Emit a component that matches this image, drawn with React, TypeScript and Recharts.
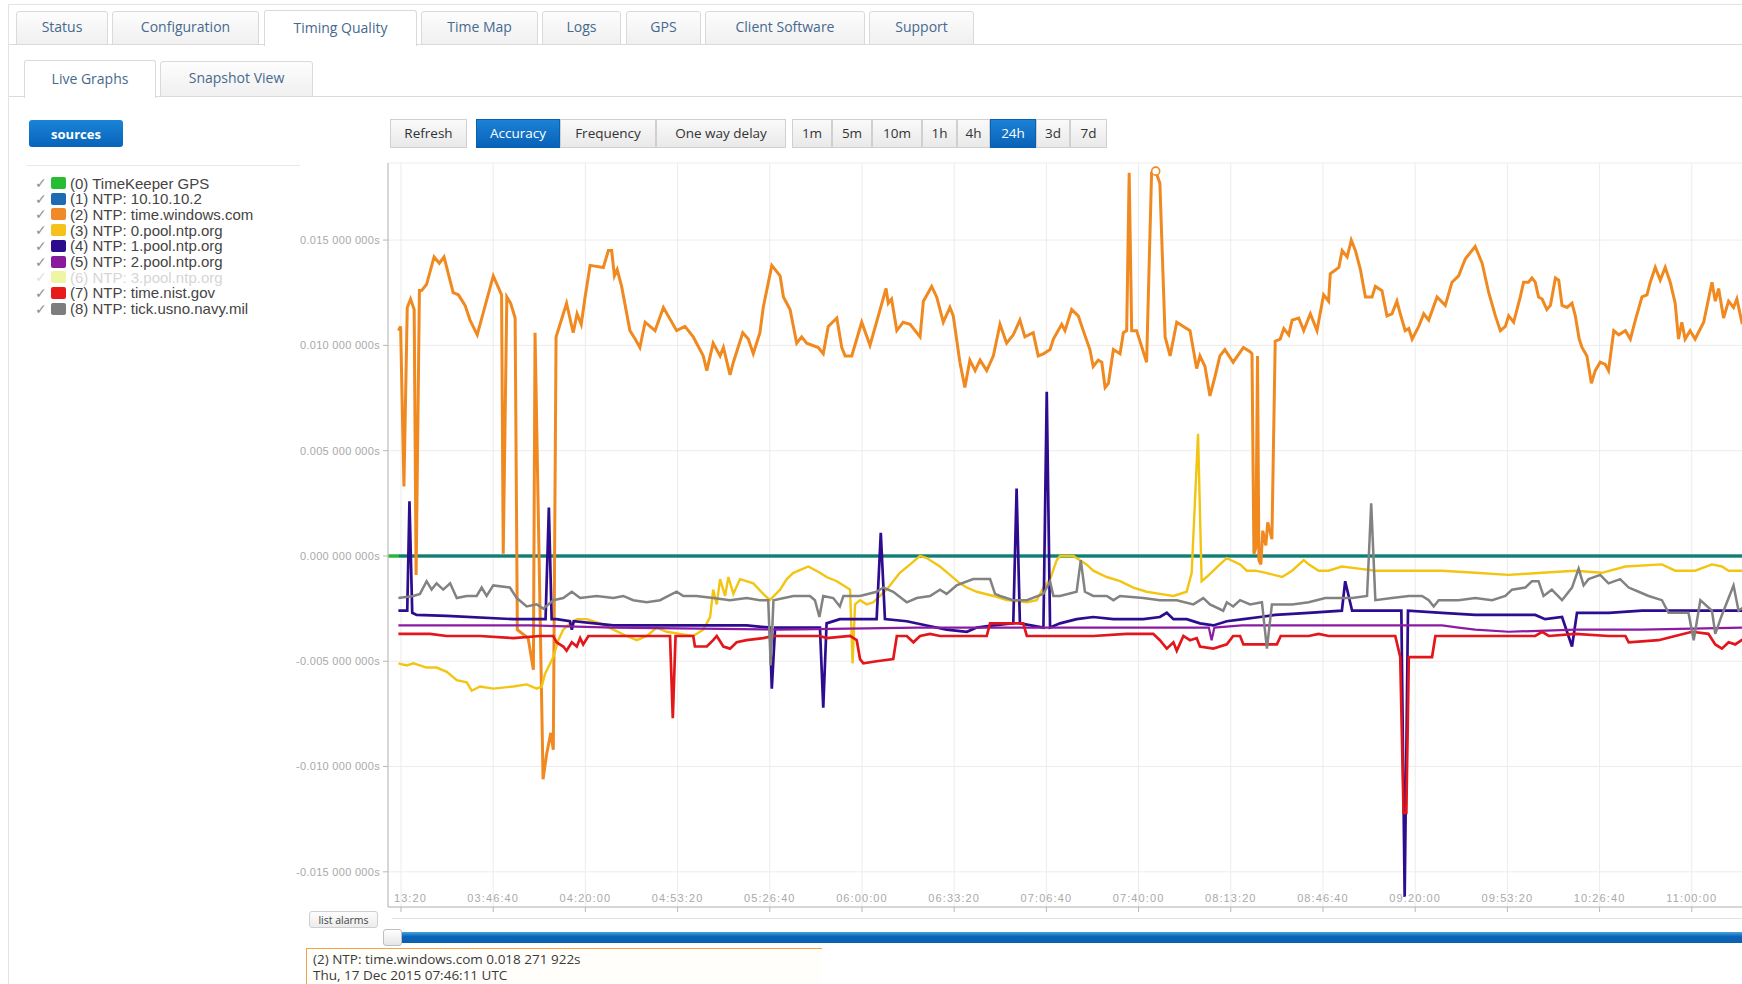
import React from "react"
import { LineChart, Line, XAxis, YAxis, CartesianGrid, ReferenceDot } from "recharts"

// x = minutes after 03:00:00 UTC (Thu 17 Dec 2015), y = clock offset in milliseconds
type Pt = [number, number]

const TIME_TICKS = [
  "03:13:20", "03:46:40", "04:20:00", "04:53:20", "05:26:40", "06:00:00", "06:33:20", "07:06:40",
  "07:40:00", "08:13:20", "08:46:40", "09:20:00", "09:53:20", "10:26:40", "11:00:00",
]
const OFFSET_TICKS = [15, 10, 5, 0, -5, -10, -15]

const gpsOffsets: Pt[] = [[8.7, 0], [501, 0]]
const localNtpOffsets: Pt[] = [[12.6, 0], [501, 0]]

const windowsOffsets: Pt[] = [
  [12.4, 10.7], [13.2, 10.9], [14.4, 3.3], [15.6, 11.8], [16.8, 12.2], [18.1, 11.7], [18.8, -0.9], [20.0, 12.6],
  [20.8, 12.6], [22.6, 12.9], [25.3, 14.2], [27.2, 13.9], [28.9, 14.2], [32.2, 12.5], [34.1, 12.4], [36.5, 11.9],
  [38.3, 11.2], [40.9, 10.5], [46.7, 13.3], [49.7, 12.4], [50.3, 0.1], [51.6, 12.3], [53.0, 12.0], [54.6, 11.3],
  [55.4, -3.5], [59.3, -3.9], [61.2, -5.4], [61.8, 10.6], [64.7, -10.6], [66.0, -9.4], [67.5, -8.4], [68.4, -9.2],
  [69.4, 10.4], [73.2, 12.0], [75.6, 10.6], [77.0, 11.5], [78.5, 11.0], [79.9, 12.3], [81.7, 13.8], [86.5, 13.7],
  [88.3, 14.5], [89.5, 14.5], [90.5, 13.3], [91.5, 13.6], [93.1, 12.8], [96.1, 10.7], [98.0, 10.3], [99.7, 9.9],
  [101.6, 11.1], [105.2, 10.7], [108.2, 11.8], [113.0, 10.7], [116.0, 10.9], [119.0, 10.4], [122.6, 9.5], [123.9, 8.8],
  [126.2, 10.1], [128.7, 9.5], [129.9, 9.9], [132.3, 8.6], [133.5, 9.2], [136.9, 10.6], [138.9, 10.3], [140.7, 9.6],
  [143.1, 10.6], [144.3, 11.8], [147.4, 13.8], [150.4, 13.3], [151.6, 12.3], [154.0, 11.7], [156.4, 10.1], [158.2, 10.4],
  [160.0, 10.1], [164.2, 9.9], [166.0, 9.6], [167.8, 10.9], [170.9, 11.3], [172.7, 9.9], [173.9, 9.5], [176.3, 9.5],
  [179.9, 11.1], [182.9, 10.0], [188.7, 12.7], [189.5, 12.0], [190.7, 12.2], [192.6, 10.7], [194.9, 11.1], [197.4, 11.0],
  [201.0, 10.4], [202.2, 12.1], [205.2, 12.8], [207.0, 12.3], [209.4, 11.1], [211.8, 11.8], [213.0, 11.4], [215.4, 9.2],
  [217.2, 8.0], [219.0, 9.3], [220.9, 8.8], [222.7, 9.3], [225.1, 8.8], [227.5, 9.5], [229.9, 11.0], [232.3, 10.1],
  [234.7, 10.5], [237.1, 11.2], [238.9, 10.4], [241.9, 10.6], [243.7, 9.5], [245.6, 9.6], [248.0, 9.8], [249.2, 10.3],
  [252.2, 11.0], [253.4, 10.7], [255.8, 11.7], [258.2, 11.4], [260.0, 10.7], [262.4, 9.8], [263.6, 9.0], [265.4, 9.3],
  [266.7, 9.2], [267.9, 8.0], [269.1, 8.2], [270.9, 9.8], [273.3, 9.6], [274.5, 10.6], [275.7, 10.7], [276.6, 18.2],
  [277.5, 10.7], [279.3, 10.7], [282.9, 9.2], [284.7, 18.2], [286.183, 18.271922], [287.7, 17.7], [289.6, 10.4], [291.4, 9.5],
  [293.8, 11.1], [296.2, 10.9], [298.6, 10.7], [301.0, 8.9], [302.2, 9.5], [304.0, 9.0], [305.8, 7.6], [307.6, 8.5],
  [309.4, 9.5], [311.2, 9.8], [314.2, 9.2], [317.9, 9.9], [320.3, 9.7], [321.0, 9.6], [321.7, 0.1], [322.4, 0.4],
  [323.0, 9.5], [323.5, -0.2], [324.2, -0.4], [324.9, 1.2], [326.0, 0.5], [326.7, 1.6], [328.2, 0.8], [329.4, 10.2],
  [331.2, 10.3], [332.5, 10.8], [334.3, 10.5], [335.5, 11.2], [337.9, 11.3], [339.7, 10.7], [342.1, 11.5], [344.5, 10.7],
  [346.9, 12.4], [348.7, 12.1], [349.3, 13.4], [352.4, 13.7], [353.6, 14.5], [355.4, 14.2], [356.9, 15.0], [358.4, 14.5],
  [360.2, 13.6], [362.0, 12.3], [364.4, 12.3], [365.6, 12.8], [368.0, 12.6], [369.8, 11.4], [371.6, 11.5], [373.4, 12.1],
  [374.6, 11.5], [376.4, 10.7], [377.7, 10.8], [378.9, 10.3], [381.3, 10.9], [383.1, 11.5], [384.9, 11.2], [387.9, 12.3],
  [390.9, 11.9], [393.3, 13.0], [395.7, 13.3], [398.1, 14.1], [401.7, 14.7], [404.2, 13.9], [406.6, 12.5], [409.0, 11.4],
  [410.8, 10.7], [412.6, 10.9], [413.8, 11.4], [415.6, 11.1], [418.0, 12.3], [419.2, 13.0], [421.0, 13.0], [422.2, 13.2],
  [423.4, 13.0], [424.6, 12.3], [425.9, 12.2], [427.6, 11.7], [428.9, 11.9], [430.7, 13.2], [431.9, 13.1], [433.1, 11.9],
  [434.9, 11.8], [436.7, 12.0], [437.9, 11.4], [439.3, 10.3], [440.3, 9.9], [442.1, 9.5], [443.7, 8.2], [445.1, 8.8],
  [446.9, 9.2], [448.7, 9.1], [449.9, 8.8], [451.8, 10.7], [453.6, 10.5], [456.0, 10.7], [457.8, 10.3], [459.6, 11.2],
  [462.0, 12.3], [463.8, 12.4], [465.0, 13.0], [466.8, 13.7], [468.6, 13.1], [470.4, 13.7], [472.2, 13.0], [474.0, 12.0],
  [475.2, 10.3], [476.4, 11.1], [477.6, 10.3], [479.4, 10.7], [481.2, 10.3], [484.3, 11.1], [487.3, 13.0], [488.5, 12.1],
  [489.7, 12.7], [491.5, 11.3], [493.3, 12.1], [495.1, 11.8], [496.3, 12.2], [498.1, 11.1], [500.3, 11.3],
]

const pool0Offsets: Pt[] = [
  [12.4, -5.1], [15.4, -5.2], [17.8, -5.1], [22.6, -5.3], [26.2, -5.3], [29.9, -5.5], [33.5, -5.9], [37.1, -6.0],
  [38.9, -6.4], [41.9, -6.2], [46.7, -6.3], [53.9, -6.2], [58.8, -6.1], [62.4, -6.3], [64.2, -6.2], [65.4, -5.6],
  [68.4, -4.8], [70.2, -4.0], [72.0, -3.5], [74.4, -3.2], [76.9, -3.0], [80.5, -3.0], [85.3, -3.2], [90.1, -3.5],
  [94.9, -3.8], [98.6, -4.0], [102.2, -3.8], [105.8, -3.4], [109.4, -3.6], [114.2, -3.7], [119.0, -3.8], [122.6, -3.5],
  [125.1, -2.9], [126.2, -1.6], [127.5, -2.3], [128.7, -1.1], [130.5, -1.9], [131.7, -1.0], [133.5, -1.8], [135.9, -1.1],
  [140.7, -1.3], [144.3, -1.8], [146.7, -2.1], [150.4, -1.6], [152.8, -1.1], [155.2, -0.8], [158.8, -0.6], [160.6, -0.5],
  [164.8, -0.8], [167.2, -1.0], [170.9, -1.2], [174.5, -1.5], [175.7, -1.6], [176.6, -5.1], [177.5, -2.3], [179.3, -2.1],
  [181.7, -2.3], [184.1, -2.2], [188.9, -1.6], [193.7, -0.8], [197.4, -0.4], [201.0, 0.0], [203.4, -0.1], [208.2, -0.5],
  [211.8, -0.9], [215.4, -1.3], [217.9, -1.5], [221.5, -1.7], [227.5, -1.9], [232.3, -2.1], [239.6, -2.2], [243.2, -2.1],
  [245.6, -1.5], [248.0, -1.1], [250.4, -0.2], [251.6, 0.0], [256.4, 0.0], [258.8, -0.2], [261.2, -0.4], [263.6, -0.7],
  [268.5, -1.0], [273.3, -1.2], [278.1, -1.5], [282.9, -1.7], [287.7, -1.8], [292.6, -1.9], [297.4, -1.7], [299.2, -0.8],
  [301.5, 5.8], [302.8, -1.2], [304.6, -1.0], [309.4, -0.4], [311.9, -0.1], [316.7, -0.4], [319.1, -0.7], [322.2, -0.7],
  [326.0, -0.8], [331.9, -1.0], [335.5, -0.7], [339.7, -0.2], [341.5, -0.4], [345.1, -0.7], [348.7, -0.7], [353.5, -0.5],
  [359.6, -0.6], [365.6, -0.7], [377.7, -0.7], [389.7, -0.7], [401.7, -0.8], [413.8, -0.9], [425.9, -0.8], [437.9, -0.7],
  [447.5, -0.8], [456.0, -0.5], [469.2, -0.4], [474.0, -0.7], [481.2, -0.7], [487.3, -0.4], [490.9, -0.5], [493.3, -0.7],
  [500.3, -0.7],
]

const pool1Offsets: Pt[] = [
  [12.4, -2.6], [15.6, -2.6], [16.4, 2.6], [17.4, -2.7], [19.0, -2.8], [29.9, -2.85], [53.9, -3.0], [65.6, -3.0],
  [66.8, 2.3], [67.8, -3.0], [69.6, -3.0], [74.4, -3.1], [75.1, -3.5], [75.8, -3.1], [90.1, -3.3], [114.2, -3.3],
  [138.3, -3.3], [146.7, -3.4], [147.4, -6.3], [148.6, -3.4], [164.8, -3.4], [166.0, -7.2], [167.2, -3.2], [172.0, -3.0],
  [179.3, -3.0], [185.3, -3.0], [186.8, 1.1], [188.3, -3.0], [196.2, -3.1], [203.4, -3.3], [210.6, -3.5], [217.9, -3.6],
  [221.5, -3.4], [227.5, -3.3], [234.7, -3.2], [235.9, 3.2], [237.1, -3.2], [245.6, -3.4], [246.8, 7.8], [248.0, -3.4],
  [251.6, -3.2], [257.6, -3.0], [263.6, -2.9], [270.9, -3.0], [275.7, -3.0], [281.7, -3.0], [287.7, -2.9], [290.2, -2.7],
  [292.6, -3.0], [297.4, -3.0], [302.2, -3.2], [307.0, -3.3], [311.9, -3.1], [317.9, -3.0], [323.9, -2.9], [329.4, -2.8],
  [341.5, -2.7], [353.5, -2.6], [354.7, -1.2], [357.2, -2.6], [365.6, -2.6], [375.0, -2.6], [376.2, -16.2], [377.4, -2.6],
  [389.7, -2.7], [401.7, -2.8], [413.8, -2.8], [423.4, -2.8], [427.0, -3.0], [433.1, -2.9], [436.7, -4.3], [438.5, -2.7],
  [450.0, -2.7], [462.0, -2.6], [474.0, -2.6], [486.0, -2.6], [500.3, -2.6],
]

const pool2Offsets: Pt[] = [
  [12.4, -3.3], [60.0, -3.3], [90.1, -3.4], [150.4, -3.5], [200.0, -3.4], [250.0, -3.4], [300.0, -3.4], [305.4, -3.4],
  [306.4, -4.0], [307.4, -3.4], [317.4, -3.3], [353.5, -3.3], [389.7, -3.3], [395.7, -3.4], [401.7, -3.5], [413.8, -3.6],
  [437.9, -3.5], [462.0, -3.5], [500.3, -3.4],
]

const nistOffsets: Pt[] = [
  [12.4, -3.7], [23.8, -3.7], [29.9, -3.8], [41.9, -3.8], [53.9, -3.9], [63.6, -3.8], [68.4, -3.8], [69.6, -4.1],
  [72.0, -4.3], [73.2, -4.5], [75.1, -4.1], [76.9, -4.3], [78.1, -3.9], [79.2, -4.2], [81.1, -3.8], [90.1, -3.8],
  [102.2, -3.8], [110.6, -3.8], [111.6, -7.7], [112.6, -3.8], [119.0, -3.8], [119.6, -4.3], [123.9, -4.3], [126.2, -4.0],
  [127.5, -3.8], [129.9, -4.3], [132.3, -4.4], [134.7, -4.1], [138.3, -4.0], [144.3, -3.9], [147.9, -3.8], [164.8, -3.8],
  [167.2, -3.9], [175.7, -3.8], [178.1, -4.0], [179.3, -4.9], [180.5, -5.1], [185.3, -5.0], [191.3, -4.9], [192.6, -3.8],
  [196.2, -3.8], [198.6, -4.1], [201.0, -3.8], [204.6, -3.7], [208.2, -3.8], [215.4, -3.8], [225.1, -3.8], [226.3, -3.2],
  [234.7, -3.2], [238.3, -3.2], [239.6, -3.8], [251.6, -3.8], [263.6, -3.8], [275.7, -3.7], [285.3, -3.7], [287.7, -4.0],
  [290.2, -4.4], [292.6, -4.1], [293.8, -4.5], [296.2, -3.8], [298.6, -4.0], [301.0, -3.9], [302.2, -4.3], [307.0, -4.4],
  [311.9, -4.2], [314.2, -3.8], [316.7, -3.8], [317.9, -4.2], [323.9, -4.2], [330.0, -4.2], [331.4, -3.8], [341.5, -3.8],
  [345.1, -3.7], [348.7, -3.8], [365.6, -3.8], [372.8, -3.8], [374.6, -4.8], [375.8, -12.2], [376.8, -12.2], [377.7, -4.8],
  [386.1, -4.8], [387.3, -3.8], [401.7, -3.8], [423.4, -3.8], [425.9, -3.6], [428.3, -3.8], [437.9, -3.7], [449.9, -3.8],
  [456.0, -3.8], [457.2, -4.1], [468.0, -4.0], [474.0, -3.8], [480.1, -3.6], [486.0, -3.7], [488.5, -4.2], [490.9, -4.4],
  [493.3, -4.1], [495.7, -4.2], [500.3, -3.8],
]

const usnoOffsets: Pt[] = [
  [12.4, -2.0], [17.8, -1.9], [20.2, -1.8], [22.6, -1.2], [24.4, -1.6], [26.2, -1.3], [28.6, -1.6], [31.1, -1.3],
  [33.5, -2.0], [37.1, -1.9], [40.7, -1.9], [42.5, -1.5], [44.3, -1.9], [46.7, -1.4], [52.7, -1.5], [55.2, -2.0],
  [58.8, -2.4], [62.4, -2.3], [64.8, -2.5], [68.4, -2.1], [72.0, -2.0], [75.1, -1.7], [78.1, -2.0], [84.1, -1.9],
  [90.1, -2.0], [93.7, -1.9], [97.3, -2.1], [102.2, -2.2], [107.0, -2.1], [110.0, -1.9], [113.0, -1.7], [115.4, -1.9],
  [120.2, -1.9], [126.2, -2.0], [132.3, -2.1], [138.3, -2.0], [143.1, -2.1], [146.1, -2.1], [147.0, -5.2], [148.0, -2.1],
  [155.2, -1.9], [161.2, -1.9], [163.0, -2.1], [164.6, -2.9], [166.0, -1.9], [169.6, -2.0], [172.0, -2.4], [173.3, -1.9],
  [179.3, -1.9], [185.3, -1.7], [187.7, -1.5], [191.3, -1.7], [196.2, -2.2], [199.8, -2.0], [204.6, -1.9], [208.2, -1.6],
  [210.6, -1.8], [214.2, -1.4], [220.2, -1.1], [226.3, -1.1], [228.1, -1.8], [229.9, -1.9], [234.7, -2.1], [239.6, -2.1],
  [245.6, -1.8], [248.0, -1.2], [249.2, -1.9], [251.6, -1.9], [257.6, -1.7], [259.1, -0.2], [260.6, -1.7], [263.6, -1.9],
  [268.5, -1.9], [270.9, -2.1], [273.3, -1.9], [281.7, -2.0], [287.7, -2.1], [293.8, -2.1], [299.8, -2.3], [303.4, -2.0],
  [305.8, -2.3], [310.6, -2.6], [311.9, -2.2], [314.2, -2.4], [316.7, -2.1], [320.3, -2.3], [324.6, -2.2], [326.4, -4.4],
  [328.2, -2.3], [335.5, -2.3], [341.5, -2.2], [347.5, -2.0], [357.2, -2.0], [362.6, -1.9], [364.1, 2.5], [365.6, -2.1],
  [371.6, -2.0], [377.7, -1.9], [382.5, -1.9], [384.9, -2.1], [386.7, -2.4], [388.5, -2.1], [395.7, -2.1], [401.7, -2.0],
  [407.8, -2.1], [412.6, -1.9], [415.0, -1.6], [419.8, -1.5], [422.2, -1.2], [424.6, -1.2], [426.4, -1.9], [429.4, -1.6],
  [433.1, -2.1], [436.7, -1.5], [439.1, -0.6], [440.9, -1.4], [442.7, -1.1], [446.9, -0.9], [449.9, -1.3], [454.1, -1.1],
  [457.2, -1.5], [460.8, -1.7], [464.4, -1.9], [469.2, -2.1], [471.6, -2.7], [478.8, -2.7], [480.7, -4.0], [483.1, -2.1],
  [487.3, -2.6], [488.5, -3.7], [490.9, -2.8], [495.1, -1.4], [496.9, -2.6], [500.3, -2.3],
]

const SOURCES = [
  { name: "(0) TimeKeeper GPS", box: "#27bd33", line: "#2bb640", width: 3.6, data: gpsOffsets },
  { name: "(1) NTP: 10.10.10.2", box: "#1d6bb3", line: "#1a7396", width: 2.4, data: localNtpOffsets },
  { name: "(2) NTP: time.windows.com", box: "#f0892a", line: "#f0891f", width: 3, data: windowsOffsets },
  { name: "(3) NTP: 0.pool.ntp.org", box: "#f4c21a", line: "#f2c512", width: 2.4, data: pool0Offsets },
  { name: "(4) NTP: 1.pool.ntp.org", box: "#2c0b8c", line: "#2d0c8f", width: 2.7, data: pool1Offsets },
  { name: "(5) NTP: 2.pool.ntp.org", box: "#8a1a9c", line: "#8c1ba3", width: 2.2, data: pool2Offsets },
  { name: "(6) NTP: 3.pool.ntp.org", box: "#eef6a6", line: "", width: 0, data: null as Pt[] | null },
  { name: "(7) NTP: time.nist.gov", box: "#e81a1a", line: "#e3161b", width: 2.7, data: nistOffsets },
  { name: "(8) NTP: tick.usno.navy.mil", box: "#7d7d7d", line: "#828282", width: 2.5, data: usnoOffsets },
]

const TOP_TABS = ["Status", "Configuration", "Timing Quality", "Time Map", "Logs", "GPS", "Client Software", "Support"]
const SUB_TABS = ["Live Graphs", "Snapshot View"]
const MODE_BUTTONS = ["Accuracy", "Frequency", "One way delay"]
const RANGE_BUTTONS = ["1m", "5m", "10m", "1h", "4h", "24h", "3d", "7d"]

// layout (page pixels)
const TOP_TAB_X = [[16, 108], [112, 259], [264, 417], [421, 538], [542, 621], [626, 701], [705, 865], [869, 974]]
const SUB_TAB_X = [[24, 156], [160, 313]]
const MODE_X = [[476, 560], [560, 656], [656, 786]]
const RANGE_X = [[792, 832], [832, 872], [872, 922], [922, 957], [957, 990], [990, 1036], [1036, 1070], [1070, 1107]]
const PLOT_LEFT = 388
const PLOT_BOTTOM = 907

const toMinutes = (hms: string) => {
  const [h, m, s] = hms.split(":").map(Number)
  return h * 60 + m + s / 60 - 180
}
const fmtTime = (min: number) => {
  const s = Math.round((180 + min) * 60)
  return [Math.floor(s / 3600), Math.floor((s % 3600) / 60), s % 60].map((n) => String(n).padStart(2, "0")).join(":")
}
const fmtSeconds = (ms: number) => {
  const [i, f] = (ms / 1000).toFixed(9).split(".")
  return `${i}.${f.slice(0, 3)} ${f.slice(3, 6)} ${f.slice(6)}s`
}

const peak = windowsOffsets.reduce((a, b) => (b[1] > a[1] ? b : a))

const UI_FONT = "'Open Sans', 'DejaVu Sans', sans-serif"
const AXIS_FONT = "'Liberation Sans', Arial, sans-serif"

function TimeTick({ x, payload }: any) {
  // labels sit inside the plot; the one hanging over the left edge only shows its visible part
  const full = fmtTime(payload.value)
  const cut = x - 26 < PLOT_LEFT
  return (
    <text
      x={cut ? x + 26 : x} y={PLOT_BOTTOM - 5} textAnchor={cut ? "end" : "middle"} fontSize={11}
      letterSpacing={1.1} fill="#a9a9a9" fontFamily={AXIS_FONT}
    >
      {cut ? full.slice(3) : full}
    </text>
  )
}

function OffsetTick({ x, y, payload }: any) {
  return (
    <text x={x} y={y} dy="0.35em" textAnchor="end" fontSize={11} letterSpacing={0.3} fill="#a9a9a9" fontFamily={AXIS_FONT}>
      {fmtSeconds(payload.value)}
    </text>
  )
}

function Tab({ label, x, top, h, active }: { label: string; x: number[]; top: number; h: number; active: boolean }) {
  return (
    <div
      style={{
        position: "absolute", left: x[0], top: active ? top - 1 : top, width: x[1] - x[0], height: active ? h + 2 : h,
        boxSizing: "border-box", border: "1px solid #dadada", borderBottom: active ? "none" : "1px solid #dadada",
        borderRadius: "3px 3px 0 0", background: active ? "#fff" : "linear-gradient(#fdfdfd, #f0f0f0)",
        display: "flex", alignItems: "center", justifyContent: "center", paddingBottom: 3,
        fontSize: 14, color: "#46698e",
      }}
    >
      {label}
    </div>
  )
}

function Btn({ label, x, active }: { label: string; x: number[]; active?: boolean }) {
  return (
    <div
      style={{
        position: "absolute", left: x[0], top: 119, width: x[1] - x[0], height: 29, boxSizing: "border-box",
        border: active ? "1px solid #0a5fae" : "1px solid #d0d0d0",
        background: active ? "linear-gradient(#1b82d6, #0962b8)" : "linear-gradient(#fafafa, #e9e9e9)",
        color: active ? "#fff" : "#333", display: "flex", alignItems: "center", justifyContent: "center",
        paddingBottom: 1, fontSize: 13.5,
      }}
    >
      {label}
    </div>
  )
}

export default function App() {
  return (
    <div style={{ position: "relative", width: 1742, height: 984, overflow: "hidden", background: "#fff", fontFamily: UI_FONT }}>
      <style>{"body{margin:0}"}</style>
      <div style={{ position: "absolute", left: 8, top: 4, width: 1734, height: 980, borderLeft: "1px solid #e3e3e3", borderTop: "1px solid #e3e3e3" }} />

      <div style={{ position: "absolute", left: 9, top: 44, width: 1733, height: 1, background: "#dadada" }} />
      {TOP_TABS.map((t, i) => (
        <Tab key={t} label={t} x={TOP_TAB_X[i]} top={11} h={34} active={t === "Timing Quality"} />
      ))}
      <div style={{ position: "absolute", left: 9, top: 96, width: 1733, height: 1, background: "#dadada" }} />
      {SUB_TABS.map((t, i) => (
        <Tab key={t} label={t} x={SUB_TAB_X[i]} top={61} h={36} active={i === 0} />
      ))}

      <div
        style={{
          position: "absolute", left: 29, top: 120, width: 94, height: 27, borderRadius: 3,
          background: "linear-gradient(#1a84d8, #0863b9)", color: "#fff", fontWeight: 700, fontSize: 13,
          display: "flex", alignItems: "center", justifyContent: "center",
        }}
      >
        sources
      </div>
      <Btn label="Refresh" x={[390, 467]} />
      {MODE_BUTTONS.map((b, i) => <Btn key={b} label={b} x={MODE_X[i]} active={i === 0} />)}
      {RANGE_BUTTONS.map((b, i) => <Btn key={b} label={b} x={RANGE_X[i]} active={b === "24h"} />)}

      <div style={{ position: "absolute", left: 27, top: 165, width: 273, height: 1, background: "#e8e8e8" }} />
      {SOURCES.map((s, i) => (
        <div
          key={s.name}
          style={{
            position: "absolute", left: 35, top: 175 + i * 15.7, height: 16, display: "flex", alignItems: "center",
            whiteSpace: "nowrap", fontFamily: AXIS_FONT, fontSize: 15, color: s.data ? "#444" : "#d6d6d6",
          }}
        >
          <span style={{ width: 16, fontSize: 14, color: s.data ? "#8f8f8f" : "#e0e0e0", fontFamily: "'DejaVu Sans'" }}>✓</span>
          <span style={{ width: 15, height: 12, background: s.box, borderRadius: 2, marginRight: 4 }} />
          {s.name}
        </div>
      ))}

      <div style={{ position: "absolute", left: 0, top: 0 }}>
        <LineChart width={1760} height={920} margin={{ top: 163, right: 10, bottom: 8, left: 298 }}>
          <CartesianGrid stroke="#ececec" strokeWidth={1} />
          <XAxis
            type="number" dataKey="t" domain={[8.64, 501.05]} allowDataOverflow ticks={TIME_TICKS.map(toMinutes)}
            interval={0} height={5} tickSize={5} tick={(p: any) => <TimeTick {...p} />}
            axisLine={{ stroke: "#b8b8b8" }} tickLine={{ stroke: "#b8b8b8" }}
          />
          <YAxis
            type="number" domain={[-16.67, 18.66]} allowDataOverflow ticks={OFFSET_TICKS} interval={0} width={90}
            tickSize={5} tickMargin={3} tick={(p: any) => <OffsetTick {...p} />}
            axisLine={{ stroke: "#b8b8b8" }} tickLine={{ stroke: "#b8b8b8" }}
          />
          {SOURCES.filter((s) => s.data).map((s) => (
            <Line
              key={s.name} name={s.name} data={s.data!.map(([t, v]) => ({ t, v }))} dataKey="v" type="linear"
              stroke={s.line} strokeWidth={s.width} dot={false} activeDot={false} isAnimationActive={false}
            />
          ))}
          <ReferenceDot x={peak[0]} y={peak[1]} r={4} fill="#fff" stroke="#f0891f" strokeWidth={1.6} />
        </LineChart>
      </div>

      <div
        style={{
          position: "absolute", left: 309, top: 911, width: 69, height: 17, boxSizing: "border-box", border: "1px solid #cfcfcf",
          borderRadius: 3, background: "linear-gradient(#fdfdfd, #ececec)", fontSize: 10.5, color: "#444",
          display: "flex", alignItems: "center", justifyContent: "center",
        }}
      >
        list alarms
      </div>
      <div style={{ position: "absolute", left: 392, top: 918, width: 1350, height: 1, background: "#e2e2e2" }} />
      <div style={{ position: "absolute", left: 400, top: 932, width: 1342, height: 11, background: "linear-gradient(#4aa0e0, #0a66b8 40%, #0a5fae)" }} />
      <div
        style={{
          position: "absolute", left: 383, top: 929, width: 19, height: 17, boxSizing: "border-box",
          border: "1px solid #bdbdbd", borderRadius: 3, background: "linear-gradient(#fff, #e6e6e6)",
        }}
      />

      <div
        style={{
          position: "absolute", left: 306, top: 948, width: 516, height: 36, boxSizing: "border-box",
          borderTop: "1.5px solid #f0a54a", borderLeft: "1.5px solid #f0a54a", background: "#fffefb",
          padding: "1.5px 0 0 6px", fontSize: 13.5, lineHeight: "16px", color: "#3a3a3a",
        }}
      >
        <div>{`(2) NTP: time.windows.com ${fmtSeconds(peak[1])}`}</div>
        <div>{`Thu, 17 Dec 2015 ${fmtTime(peak[0])} UTC`}</div>
      </div>
    </div>
  )
}
